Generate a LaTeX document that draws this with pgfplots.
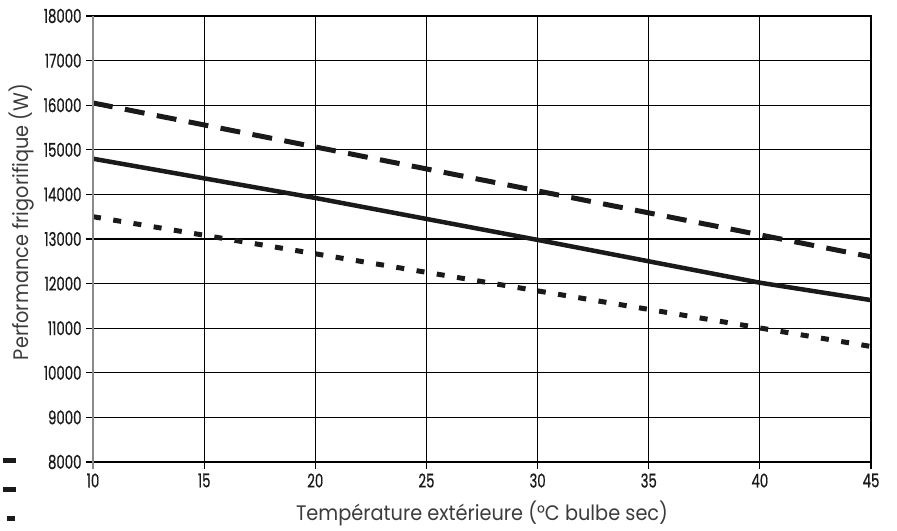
\documentclass[border=0pt]{standalone}
\usepackage{fontspec}
\setmainfont[FakeStretch=0.92]{Poppins}
\newfontfamily\condfont[FakeStretch=0.7, FakeBold=0.6]{Poppins}
\usepackage{pgfplots}
\pgfplotsset{compat=1.18}
\definecolor{ink}{HTML}{1A1A1A}
\definecolor{axgray}{HTML}{8A8A8A}

\pgfplotstableread{
x y
10 16050
45 12600
}\dashedtbl
\pgfplotstableread{
x y
10 14800
20 13920
30 12980
40 12020
45 11630
}\solidtbl
\pgfplotstableread{
x y
10 13500
45 10590
}\dottedtbl

\begin{document}
\begin{tikzpicture}
\begin{axis}[
  scale only axis, width=778bp, height=446bp,
  xmin=10, xmax=45, ymin=8000, ymax=18000,
  xtick={10,15,...,45}, ytick={8000,9000,...,18000},
  scaled ticks=false,
  grid=major, grid style={black, line width=1.1bp},
  axis line style={black, line width=1.1bp},
  tick style={black, line width=1.1bp},
  major tick length=7bp, tick align=outside, tick pos=left,
  /pgf/number format/assume math mode=true,
  /pgf/number format/1000 sep={},
  ticklabel style={font=\condfont\fontsize{19bp}{21bp}\selectfont, text=ink},
  xticklabel style={yshift=-1bp},
  yticklabel style={xshift=-1bp},
  label style={font=\fontsize{21bp}{23bp}\selectfont, text=ink!85},
  xlabel={Température extérieure (°C bulbe sec)},
  ylabel={Performance frigorifique (W)},
  xlabel style={at={(rel axis cs:0.5,0)}, anchor=center, yshift=-51bp},
  ylabel style={at={([shift={(-71bp,17bp)}]rel axis cs:0,0.5)}, anchor=center},
  clip=false,
  legend style={at={(rel axis cs:0,0)}, anchor=north west, xshift=-93bp, yshift=16.5bp,
    draw=none, fill=none, inner sep=0pt, row sep=0pt, nodes={inner sep=0pt}},
]
\addplot[ink, line width=5bp, dash pattern=on 20bp off 12.5bp, forget plot] table[x=x,y=y] {\dashedtbl};
\addplot[ink, line width=4.5bp, forget plot] table[x=x,y=y] {\solidtbl};
\addplot[ink, line width=5bp, dash pattern=on 8bp off 12.5bp, forget plot] table[x=x,y=y] {\dottedtbl};
\addplot[axgray, line width=1.4bp, forget plot] coordinates {(10,7843) (10,18000)};
\addlegendimage{legend image code/.code={\draw[ink, solid, line width=5bp] (0bp,0bp)--(13bp,0bp); \path[draw=none,fill=none] (0bp,-14.5bp) rectangle (13bp,14.5bp);}}
\addlegendentry{}
\addlegendimage{legend image code/.code={\draw[ink, solid, line width=5bp] (0bp,0bp)--(13bp,0bp); \path[draw=none,fill=none] (0bp,-14.5bp) rectangle (13bp,14.5bp);}}
\addlegendentry{}
\addlegendimage{legend image code/.code={\draw[ink, solid, line width=5bp] (4bp,0bp)--(12bp,0bp); \path[draw=none,fill=none] (0bp,-14.5bp) rectangle (13bp,14.5bp);}}
\addlegendentry{}
\coordinate (O) at (rel axis cs:0,0);
\end{axis}
\pgfresetboundingbox
\path[use as bounding box] ([shift={(-93bp,-69bp)}]O) rectangle ([shift={(804bp,462bp)}]O);
\end{tikzpicture}
\end{document}
